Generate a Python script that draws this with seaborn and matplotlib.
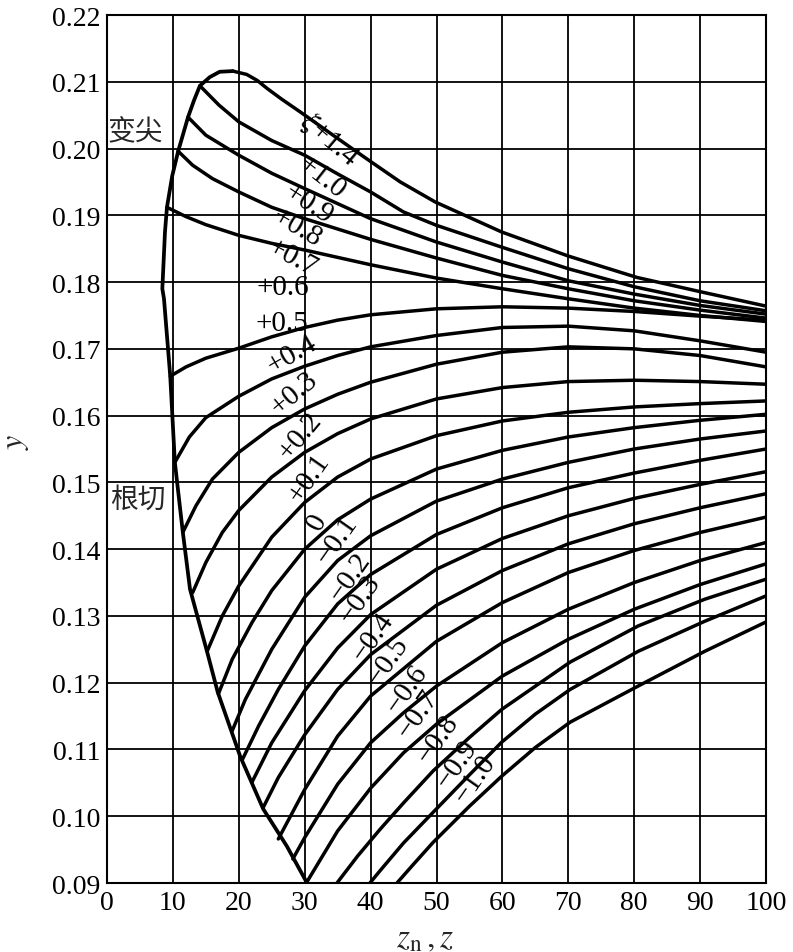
import numpy as np
import pandas as pd
import seaborn as sns
from matplotlib import pyplot as plt

# boundary line (undercut limit up the left side, then pointed-tooth limit to the peak)
boundary_z = [30.3, 27.3, 23.7, 20.2, 16.8, 15.2, 12.6, 11.5, 10.3, 9.6, 8.65, 8.4, 8.8, 9.1, 9.9, 10.8, 12.3, 13.2, 14.1, 15.6, 17.1, 19.1]
boundary_y = [0.0901, 0.0955, 0.1011, 0.1090, 0.1186, 0.1246, 0.1340, 0.1426, 0.1530, 0.1659, 0.1775, 0.1790, 0.1875, 0.1912, 0.1959, 0.1996, 0.2047, 0.2072, 0.2094, 0.2107, 0.2115, 0.2116]

# one curve per shift coefficient xi: (z values, y values)
curves = {
    "+1.4": ([19.1, 21.2, 22.8, 24.3, 26.5, 29.3, 34.3, 39.5, 44.5, 49.8, 59.9, 70.0, 80.4, 90.3, 100],
             [0.2116, 0.2111, 0.2102, 0.2090, 0.2074, 0.2055, 0.2020, 0.1984, 0.1950, 0.1920, 0.1875, 0.1839, 0.1807, 0.1785, 0.1764]),
    "+1.0": ([14.1, 17, 20, 25, 30, 35, 40, 45, 50, 60, 70, 80, 90, 100],
             [0.2094, 0.2065, 0.2040, 0.2012, 0.1990, 0.1962, 0.1935, 0.1905, 0.1885, 0.1852, 0.1820, 0.1793, 0.1772, 0.1757]),
    "+0.9": ([12.3, 15, 20, 25, 30, 40, 50, 60, 70, 80, 90, 100],
             [0.2047, 0.2020, 0.1990, 0.1963, 0.1940, 0.1895, 0.1860, 0.1830, 0.1802, 0.1782, 0.1765, 0.1752]),
    "+0.8": ([10.8, 13, 16, 20, 25, 30, 40, 50, 60, 70, 80, 90, 100],
             [0.1996, 0.1975, 0.1955, 0.1935, 0.1912, 0.1895, 0.1864, 0.1836, 0.1810, 0.1790, 0.1772, 0.1758, 0.1746]),
    "+0.7": ([9.1, 12, 15, 20, 25, 30, 40, 50, 60, 70, 80, 90, 100],
             [0.1912, 0.1898, 0.1886, 0.1870, 0.1858, 0.1848, 0.1826, 0.1806, 0.1790, 0.1775, 0.1761, 0.1750, 0.1741]),
    "+0.5": ([9.6, 12, 15, 20, 25, 30, 35, 40, 50, 60, 70, 80, 90, 100],
             [0.1659, 0.1673, 0.1686, 0.1701, 0.1718, 0.1732, 0.1743, 0.1751, 0.1760, 0.1763, 0.1761, 0.1756, 0.1749, 0.1743]),
    "+0.4": ([10.3, 12.5, 15, 20, 25, 30, 35, 40, 50, 60, 70, 80, 90, 100],
             [0.1530, 0.1568, 0.1597, 0.1629, 0.1655, 0.1674, 0.1690, 0.1703, 0.1720, 0.1732, 0.1734, 0.1727, 0.1712, 0.1695]),
    "+0.3": ([11.5, 13.5, 16, 20, 25, 30, 35, 40, 50, 60, 70, 80, 90, 100],
             [0.1425, 0.1465, 0.1505, 0.1545, 0.1582, 0.1610, 0.1632, 0.1650, 0.1677, 0.1695, 0.1703, 0.1700, 0.1690, 0.1673]),
    "+0.2": ([13.0, 15, 17.5, 20, 25, 30, 35, 40, 50, 60, 70, 80, 90, 100],
             [0.1335, 0.1380, 0.1425, 0.1458, 0.1508, 0.1545, 0.1573, 0.1595, 0.1625, 0.1642, 0.1651, 0.1653, 0.1651, 0.1647]),
    "+0.1": ([15.2, 17.5, 20, 25, 30, 35, 40, 50, 60, 70, 80, 90, 100],
             [0.1247, 0.1300, 0.1345, 0.1418, 0.1470, 0.1508, 0.1535, 0.1570, 0.1592, 0.1605, 0.1613, 0.1618, 0.1622]),
    "0": ([16.9, 19, 22, 25, 30, 35, 40, 50, 60, 70, 80, 90, 100],
          [0.1183, 0.1235, 0.1290, 0.1338, 0.1400, 0.1444, 0.1475, 0.1520, 0.1548, 0.1568, 0.1582, 0.1593, 0.1602]),
    "-0.1": ([19.0, 21, 25, 30, 35, 40, 50, 60, 70, 80, 90, 100],
             [0.1128, 0.1175, 0.1250, 0.1328, 0.1383, 0.1420, 0.1472, 0.1505, 0.1530, 0.1550, 0.1565, 0.1577]),
    "-0.2": ([20.6, 23, 26, 30, 35, 40, 50, 60, 70, 80, 90, 100],
             [0.1086, 0.1135, 0.1190, 0.1255, 0.1318, 0.1362, 0.1422, 0.1462, 0.1492, 0.1514, 0.1533, 0.1550]),
    "-0.3": ([22.0, 25, 30, 35, 40, 50, 60, 70, 80, 90, 100],
             [0.1051, 0.1110, 0.1188, 0.1252, 0.1302, 0.1370, 0.1416, 0.1450, 0.1476, 0.1497, 0.1516]),
    "-0.4": ([23.7, 26, 30, 35, 40, 50, 60, 70, 80, 90, 100],
             [0.1013, 0.1058, 0.1122, 0.1190, 0.1242, 0.1316, 0.1368, 0.1408, 0.1438, 0.1462, 0.1483]),
    "-0.5": ([26.0, 28, 30, 35, 40, 50, 60, 70, 80, 90, 100],
             [0.0966, 0.1003, 0.1040, 0.1120, 0.1180, 0.1262, 0.1320, 0.1365, 0.1398, 0.1425, 0.1448]),
    "-0.6": ([28.2, 30, 35, 40, 45, 50, 60, 70, 80, 90, 100],
             [0.0936, 0.0968, 0.1048, 0.1110, 0.1155, 0.1195, 0.1260, 0.1310, 0.1350, 0.1383, 0.1410]),
    "-0.7": ([30.3, 35, 40, 45, 50, 60, 70, 80, 90, 100],
             [0.0901, 0.0978, 0.1042, 0.1095, 0.1138, 0.1210, 0.1265, 0.1310, 0.1347, 0.1378]),
    "-0.8": ([34.9, 38, 41.4, 45, 49.5, 55, 59.9, 70.3, 80.6, 90.7, 100],
             [0.0900, 0.0940, 0.0980, 0.1020, 0.1068, 0.1118, 0.1160, 0.1231, 0.1285, 0.1325, 0.1355]),
    "-0.9": ([39.9, 41.4, 45, 49.5, 55, 59.9, 65, 70.3, 80.6, 90.7, 100],
             [0.0900, 0.0918, 0.0960, 0.1006, 0.1062, 0.1111, 0.1153, 0.1190, 0.1247, 0.1292, 0.1330]),
    "-1.0": ([44.0, 46.5, 49.5, 55, 59.9, 65, 70.3, 80.6, 90.7, 100],
             [0.0900, 0.0928, 0.0961, 0.1015, 0.1060, 0.1103, 0.1141, 0.1195, 0.1247, 0.1291]),
}

# curve labels: text, z, y, rotation
labels = [
    ("$\\xi$+1.4", 33.8, 0.2016, -40),
    ("+1.0", 32.6, 0.1958, -38),
    ("+0.9", 30.5, 0.1918, -33),
    ("+0.8", 28.8, 0.1883, -30),
    ("+0.7", 28.1, 0.1838, -28),
    ("+0.6", 26.7, 0.1792, 0),
    ("+0.5", 26.5, 0.1738, 0),
    ("+0.4", 28.1, 0.1692, 30),
    ("+0.3", 28.4, 0.1635, 40),
    ("+0.2", 29.3, 0.1570, 50),
    ("+0.1", 30.7, 0.1507, 55),
    ("0", 31.9, 0.1441, 62),
    ("\u22120.1", 34.9, 0.1414, 55),
    ("\u22120.2", 36.9, 0.1359, 55),
    ("\u22120.3", 38.4, 0.1326, 55),
    ("\u22120.4", 40.4, 0.1269, 55),
    ("\u22120.5", 42.6, 0.1233, 55),
    ("\u22120.6", 45.5, 0.1191, 55),
    ("\u22120.7", 47.2, 0.1154, 55),
    ("\u22120.8", 50.2, 0.1116, 55),
    ("\u22120.9", 53.1, 0.1079, 55),
    ("\u22121.0", 55.8, 0.1056, 55),
]

frames = []
for xi, (zs, ys) in curves.items():
    frames.append(pd.DataFrame({"z": zs, "y": ys, "xi": xi}))
df = pd.concat(frames, ignore_index=True)
bd = pd.DataFrame({"z": boundary_z, "y": boundary_y})

sns.set_style("white")
plt.rcParams["font.family"] = ["Liberation Serif", "Noto Sans CJK SC", "DejaVu Sans"]
plt.rcParams["mathtext.fontset"] = "stix"

fig = plt.figure(figsize=(7.93, 9.53), dpi=100)
ax = fig.add_axes([0.1349, 0.0724, 0.8311, 0.9108])

sns.lineplot(data=df, x="z", y="y", units="xi", estimator=None, sort=False,
             color="black", lw=2.5, ax=ax)
sns.lineplot(data=bd, x="z", y="y", estimator=None, sort=False, color="black", lw=2.7, ax=ax)

ax.set_xlim(0, 100)
ax.set_ylim(0.09, 0.22)
ax.set_xticks(np.arange(0, 101, 10))
yt = np.round(np.arange(0.09, 0.2201, 0.01), 2)
ax.set_yticks(yt)
ax.set_yticklabels([f"{v:.2f}" for v in yt])
ax.grid(True, color="black", lw=1.3)
ax.set_axisbelow(True)
for s in ax.spines.values():
    s.set_color("black")
    s.set_linewidth(1.5)
ax.tick_params(axis="both", length=0, labelsize=20, pad=5, colors="black")

ax.set_xlabel("$z_{\\mathrm{n}}\\,,z$", fontsize=24, va="center")
ax.set_ylabel("$y$", fontsize=23, va="center")
ax.xaxis.set_label_coords(0.483, -0.0635)
ax.yaxis.set_label_coords(-0.138, 0.51)

for txt, zx, yv, rot in labels:
    ax.text(zx, yv, txt, fontsize=21, rotation=rot, ha="center", va="center",
            rotation_mode="anchor", color="black")

ax.text(0.1, 0.2026, "变尖", fontsize=20, family=["Noto Sans CJK SC"], ha="left", va="center")
ax.text(0.4, 0.1475, "根切", fontsize=20, family=["Noto Sans CJK SC"], ha="left", va="center")

fig.savefig("out.png", dpi=100)
